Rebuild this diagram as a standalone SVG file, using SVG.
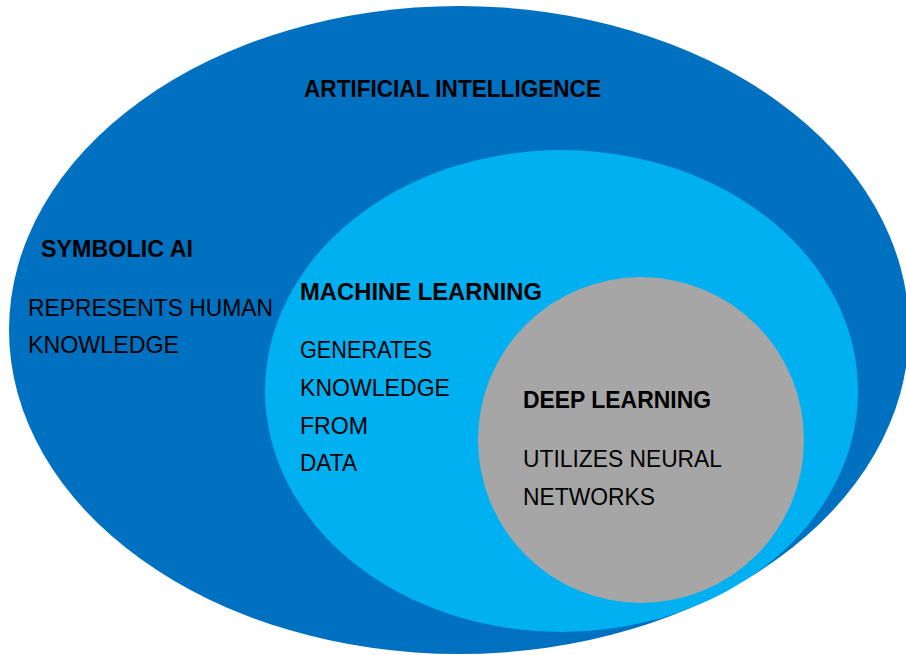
<svg xmlns="http://www.w3.org/2000/svg" width="906" height="655" viewBox="0 0 906 655">
<style>
.t{font-family:"Liberation Sans",Arial,sans-serif;font-size:24px;fill:#000}
.b{font-weight:bold;font-size:23px}
</style>
<rect width="906" height="655" fill="#fff"/>
<g id="ai">
<ellipse cx="459" cy="330" rx="450" ry="324" fill="#0070C0"/>
<text class="t b" x="304" y="97" textLength="297" lengthAdjust="spacingAndGlyphs">ARTIFICIAL INTELLIGENCE</text>
</g>
<g id="symbolic">
<text class="t b" x="41" y="257" textLength="152" lengthAdjust="spacingAndGlyphs">SYMBOLIC AI</text>
<text class="t" x="28" y="316" textLength="245" lengthAdjust="spacingAndGlyphs">REPRESENTS HUMAN</text>
<text class="t" x="28" y="353" textLength="151" lengthAdjust="spacingAndGlyphs">KNOWLEDGE</text>
</g>
<g id="ml">
<ellipse cx="561.5" cy="391" rx="296.5" ry="241" fill="#00B0F0"/>
<text class="t b" x="300" y="300" textLength="242" lengthAdjust="spacingAndGlyphs">MACHINE LEARNING</text>
<text class="t" x="300" y="358" textLength="132" lengthAdjust="spacingAndGlyphs">GENERATES</text>
<text class="t" x="300" y="396" textLength="150" lengthAdjust="spacingAndGlyphs">KNOWLEDGE</text>
<text class="t" x="300" y="434" textLength="68" lengthAdjust="spacingAndGlyphs">FROM</text>
<text class="t" x="300" y="471" textLength="57" lengthAdjust="spacingAndGlyphs">DATA</text>
</g>
<g id="dl">
<circle cx="641" cy="440" r="163" fill="#A6A6A6"/>
<text class="t b" x="523" y="408" textLength="188" lengthAdjust="spacingAndGlyphs">DEEP LEARNING</text>
<text class="t" x="523" y="467" textLength="199" lengthAdjust="spacingAndGlyphs">UTILIZES NEURAL</text>
<text class="t" x="523" y="505" textLength="132" lengthAdjust="spacingAndGlyphs">NETWORKS</text>
</g>
<g id="connectors"/>
</svg>
